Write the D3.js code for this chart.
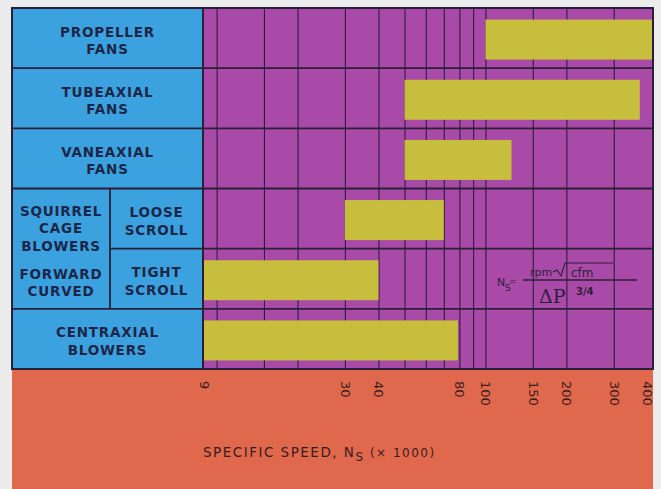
<!DOCTYPE html>
<html><head><meta charset="utf-8">
<script src="https://cdn.jsdelivr.net/npm/d3@7"></script>
<style>body{margin:0;background:#ececec;} svg{display:block}</style>
</head><body><svg id="c" width="661" height="489"></svg>
<script>
// ---- data ----
const categories = ["PROPELLER FANS","TUBEAXIAL FANS","VANEAXIAL FANS","LOOSE SCROLL","TIGHT SCROLL","CENTRAXIAL BLOWERS"];
const rangeStart = [100, 50, 50, 30, 8.9, 8.9];
const rangeEnd   = [420, 375, 125, 70, 40, 79];
const labelLines = [["PROPELLER","FANS"],["TUBEAXIAL","FANS"],["VANEAXIAL","FANS"],["LOOSE","SCROLL"],["TIGHT","SCROLL"],["CENTRAXIAL","BLOWERS"]];
const groupTop = ["SQUIRREL","CAGE","BLOWERS"];
const groupBottom = ["FORWARD","CURVED"];
const gridValues = [10,15,20,30,40,50,60,70,80,90,100,150,200,300];
const tickValues = [9,30,40,80,100,150,200,300,400];
const tickLabels = ["9","30","40","80","100","150","200","300","400"];
const xDomain = [8.9, 420];

// ---- layout ----
const W=661,H=489, L0=12, SPLIT=110, PL=203, PR=653, TOPY=8, BOTY=369;
const C = {blue:"#3ca2df", purple:"#aa4aa8", yellow:"#c7be3d", orange:"#e0694d", line:"#2a1f38", text:"#1c2648", axisText:"#3a1c1c"};

const svg = d3.select("#c");
const x = d3.scaleLog().domain(xDomain).range([PL, PR]);
const y = d3.scaleBand().domain(categories).range([TOPY, BOTY]);
const bh = 40;

// backgrounds
svg.append("rect").attr("x",L0).attr("y",BOTY).attr("width",PR-L0).attr("height",H-BOTY).attr("fill",C.orange);
svg.append("rect").attr("x",L0).attr("y",TOPY).attr("width",PL-L0).attr("height",BOTY-TOPY).attr("fill",C.blue);
svg.append("rect").attr("x",PL).attr("y",TOPY).attr("width",PR-PL).attr("height",BOTY-TOPY).attr("fill",C.purple);

// vertical gridlines via axis
const grid = svg.append("g").attr("transform",`translate(0,${BOTY})`)
  .call(d3.axisTop(x).tickValues(gridValues).tickSize(BOTY-TOPY).tickFormat(""));
grid.select(".domain").remove();
grid.selectAll("line").attr("stroke",C.line).attr("stroke-width",1.1);

// bars
svg.append("g").selectAll("rect").data(categories).join("rect")
  .attr("x",(d,i)=>x(rangeStart[i]))
  .attr("width",(d,i)=>x(rangeEnd[i])-x(rangeStart[i]))
  .attr("y",d=>y(d)+y.bandwidth()/2-bh/2+1.5)
  .attr("height",bh)
  .attr("fill",C.yellow);

// horizontal row lines
const rowLines = categories.slice(1);
svg.append("g").selectAll("line").data(rowLines).join("line")
  .attr("x1",d=> d==="TIGHT SCROLL" ? SPLIT : L0)
  .attr("x2",PR)
  .attr("y1",d=>y(d)).attr("y2",d=>y(d))
  .attr("stroke",C.line).attr("stroke-width",1.8);

// vertical dividers
svg.append("line").attr("x1",PL).attr("x2",PL).attr("y1",TOPY).attr("y2",BOTY).attr("stroke",C.line).attr("stroke-width",2);
svg.append("line").attr("x1",SPLIT).attr("x2",SPLIT).attr("y1",y("LOOSE SCROLL")).attr("y2",y("CENTRAXIAL BLOWERS")).attr("stroke",C.line).attr("stroke-width",1.8);
svg.append("rect").attr("x",L0).attr("y",TOPY).attr("width",PR-L0).attr("height",BOTY-TOPY)
  .attr("fill","none").attr("stroke",C.line).attr("stroke-width",2);

// labels
const fontL = "'DejaVu Sans', sans-serif";
function block(cx, baselines, lines){
  lines.forEach((t,k)=>{
    svg.append("text").attr("x",cx).attr("y",baselines[k]).attr("text-anchor","middle")
      .attr("font-family",fontL).attr("font-weight","bold").attr("font-size",13.5)
      .attr("letter-spacing",0.8).attr("fill",C.text).text(t);
  });
}
categories.forEach((c,i)=>{
  const cy = y(c)+y.bandwidth()/2;
  const inner = (c==="LOOSE SCROLL"||c==="TIGHT SCROLL");
  const cx = inner ? (SPLIT+PL)/2 : (L0+PL)/2;
  block(cx,[cy-1.5, cy+16], labelLines[i]);
});
const gTop = y("LOOSE SCROLL");
block((L0+SPLIT)/2, [gTop+27, gTop+44.5, gTop+62], groupTop);
block((L0+SPLIT)/2, [gTop+90, gTop+107.5], groupBottom);

// axis tick labels (rotated)
const axisG = svg.append("g").attr("transform",`translate(0,${BOTY})`)
  .call(d3.axisBottom(x).tickValues(tickValues).tickSize(0).tickFormat((d,i)=>tickLabels[i]));
axisG.select(".domain").remove();
axisG.selectAll("text")
  .attr("font-family",fontL).attr("font-size",13).attr("fill",C.axisText)
  .attr("text-anchor","start").attr("dy","0.35em").attr("y",0)
  .attr("transform","translate(0,12) rotate(90)");

// axis title
const title = svg.append("text").attr("x",PL).attr("y",457)
  .attr("font-family",fontL).attr("font-size",13.5).attr("letter-spacing",1.5).attr("fill",C.axisText);
title.append("tspan").text("SPECIFIC SPEED, N");
title.append("tspan").attr("dy",4).attr("font-size",12).text("S");
title.append("tspan").attr("dy",-4).attr("font-size",12).text(" (× 1000)");

// formula
const fg = svg.append("g").attr("fill",C.line).attr("font-family",fontL);
fg.append("text").attr("x",497).attr("y",286).attr("font-size",11).text("N");
fg.append("text").attr("x",505).attr("y",291).attr("font-size",9).text("S");
fg.append("text").attr("x",509).attr("y",284).attr("font-size",9).text("=");
fg.append("line").attr("x1",523).attr("x2",637).attr("y1",280).attr("y2",280).attr("stroke",C.line).attr("stroke-width",1.3);
fg.append("text").attr("x",530).attr("y",276).attr("font-size",11).text("rpm");
fg.append("path").attr("d","M553,272 L557,270 L561,276 L565,263 L613,263").attr("fill","none").attr("stroke",C.line).attr("stroke-width",1.1);
fg.append("text").attr("x",571).attr("y",277).attr("font-size",12).text("cfm");
fg.append("text").attr("x",539).attr("y",303).attr("font-size",19).attr("font-family","'DejaVu Serif', serif").text("ΔP");
fg.append("text").attr("x",576).attr("y",295).attr("font-size",10).attr("font-weight","bold").text("3/4");
</script></body></html>
